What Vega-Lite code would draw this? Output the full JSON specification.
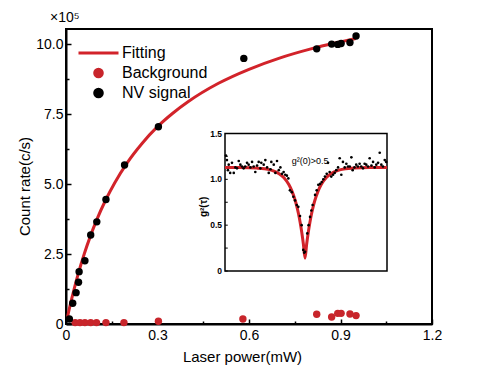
{
  "$schema": "https://vega.github.io/schema/vega-lite/v6.json",
  "width": 366,
  "height": 295,
  "autosize": "none",
  "padding": {"left": 66, "top": 29, "right": 48, "bottom": 47},
  "background": "white",
  "config": {
    "font": "Liberation Sans",
    "view": {"stroke": "black", "strokeWidth": 2},
    "axis": {"grid": false}
  },
  "title": {"text": "×10⁵", "anchor": "start", "frame": "group", "dx": -16, "offset": 4, "fontSize": 14, "fontWeight": "normal", "color": "black"},
  "datasets": {
    "fit": [
      {"P": 0.005, "C": 0.25, "series": "Fitting"},
      {"P": 0.01, "C": 0.50, "series": "Fitting"},
      {"P": 0.02, "C": 0.96, "series": "Fitting"},
      {"P": 0.03, "C": 1.39, "series": "Fitting"},
      {"P": 0.04, "C": 1.79, "series": "Fitting"},
      {"P": 0.06, "C": 2.51, "series": "Fitting"},
      {"P": 0.08, "C": 3.14, "series": "Fitting"},
      {"P": 0.10, "C": 3.70, "series": "Fitting"},
      {"P": 0.13, "C": 4.43, "series": "Fitting"},
      {"P": 0.16, "C": 5.05, "series": "Fitting"},
      {"P": 0.20, "C": 5.75, "series": "Fitting"},
      {"P": 0.25, "C": 6.46, "series": "Fitting"},
      {"P": 0.30, "C": 7.05, "series": "Fitting"},
      {"P": 0.35, "C": 7.53, "series": "Fitting"},
      {"P": 0.40, "C": 7.94, "series": "Fitting"},
      {"P": 0.50, "C": 8.60, "series": "Fitting"},
      {"P": 0.60, "C": 9.10, "series": "Fitting"},
      {"P": 0.70, "C": 9.50, "series": "Fitting"},
      {"P": 0.80, "C": 9.82, "series": "Fitting"},
      {"P": 0.90, "C": 10.08, "series": "Fitting"},
      {"P": 0.95, "C": 10.20, "series": "Fitting"}
    ],
    "points": [
      {"P": 0.03, "C": 0.05, "series": "Background"},
      {"P": 0.046, "C": 0.05, "series": "Background"},
      {"P": 0.062, "C": 0.05, "series": "Background"},
      {"P": 0.081, "C": 0.05, "series": "Background"},
      {"P": 0.10, "C": 0.05, "series": "Background"},
      {"P": 0.131, "C": 0.05, "series": "Background"},
      {"P": 0.19, "C": 0.05, "series": "Background"},
      {"P": 0.303, "C": 0.10, "series": "Background"},
      {"P": 0.58, "C": 0.18, "series": "Background"},
      {"P": 0.822, "C": 0.35, "series": "Background"},
      {"P": 0.871, "C": 0.25, "series": "Background"},
      {"P": 0.891, "C": 0.38, "series": "Background"},
      {"P": 0.902, "C": 0.38, "series": "Background"},
      {"P": 0.931, "C": 0.36, "series": "Background"},
      {"P": 0.951, "C": 0.30, "series": "Background"},
      {"P": 0.011, "C": 0.18, "series": "NV signal"},
      {"P": 0.022, "C": 0.74, "series": "NV signal"},
      {"P": 0.033, "C": 1.12, "series": "NV signal"},
      {"P": 0.041, "C": 1.49, "series": "NV signal"},
      {"P": 0.043, "C": 1.87, "series": "NV signal"},
      {"P": 0.062, "C": 2.26, "series": "NV signal"},
      {"P": 0.081, "C": 3.18, "series": "NV signal"},
      {"P": 0.101, "C": 3.65, "series": "NV signal"},
      {"P": 0.131, "C": 4.45, "series": "NV signal"},
      {"P": 0.192, "C": 5.68, "series": "NV signal"},
      {"P": 0.303, "C": 7.05, "series": "NV signal"},
      {"P": 0.583, "C": 9.49, "series": "NV signal"},
      {"P": 0.822, "C": 9.83, "series": "NV signal"},
      {"P": 0.871, "C": 10.0, "series": "NV signal"},
      {"P": 0.891, "C": 9.99, "series": "NV signal"},
      {"P": 0.902, "C": 10.02, "series": "NV signal"},
      {"P": 0.931, "C": 10.06, "series": "NV signal"},
      {"P": 0.951, "C": 10.29, "series": "NV signal"}
    ],
    "g2fit": [
      {"tau": -50, "g": 1.13}, {"tau": -40.6, "g": 1.129}, {"tau": -30.6, "g": 1.123},
      {"tau": -25.6, "g": 1.115}, {"tau": -20.6, "g": 1.095}, {"tau": -16.6, "g": 1.061},
      {"tau": -13.6, "g": 1.017}, {"tau": -10.6, "g": 0.943}, {"tau": -8.6, "g": 0.869},
      {"tau": -6.6, "g": 0.766}, {"tau": -5.6, "g": 0.70}, {"tau": -4.6, "g": 0.622},
      {"tau": -3.6, "g": 0.53}, {"tau": -2.6, "g": 0.421}, {"tau": -1.6, "g": 0.292},
      {"tau": -0.6, "g": 0.14}, {"tau": 0.4, "g": 0.292}, {"tau": 1.4, "g": 0.421},
      {"tau": 2.4, "g": 0.53}, {"tau": 3.4, "g": 0.622}, {"tau": 4.4, "g": 0.70},
      {"tau": 5.4, "g": 0.766}, {"tau": 7.4, "g": 0.869}, {"tau": 9.4, "g": 0.943},
      {"tau": 12.4, "g": 1.017}, {"tau": 15.4, "g": 1.061}, {"tau": 19.4, "g": 1.095},
      {"tau": 24.4, "g": 1.115}, {"tau": 29.4, "g": 1.123}, {"tau": 39.4, "g": 1.129},
      {"tau": 50, "g": 1.13}
    ],
    "g2": [
      {"tau": -49.4, "g": 1.26}, {"tau": -48.8, "g": 1.21}, {"tau": -48.2, "g": 1.10}, {"tau": -47.7, "g": 1.16},
      {"tau": -46.8, "g": 1.07}, {"tau": -45.7, "g": 1.18}, {"tau": -44.6, "g": 1.07}, {"tau": -43.6, "g": 1.13},
      {"tau": -42.6, "g": 1.12}, {"tau": -41.5, "g": 1.20}, {"tau": -40.5, "g": 1.16}, {"tau": -39.5, "g": 1.14},
      {"tau": -38.5, "g": 1.12}, {"tau": -37.5, "g": 1.14}, {"tau": -36.4, "g": 1.18}, {"tau": -35.4, "g": 1.16},
      {"tau": -34.3, "g": 1.13}, {"tau": -33.3, "g": 1.19}, {"tau": -32.3, "g": 1.14}, {"tau": -31.3, "g": 1.08},
      {"tau": -30.2, "g": 1.15}, {"tau": -29.2, "g": 1.19}, {"tau": -28.2, "g": 1.12}, {"tau": -27.6, "g": 1.18},
      {"tau": -26.1, "g": 1.16}, {"tau": -25.1, "g": 1.21}, {"tau": -24.0, "g": 1.13}, {"tau": -23.0, "g": 1.07},
      {"tau": -21.9, "g": 1.11}, {"tau": -21.4, "g": 1.19}, {"tau": -19.9, "g": 1.16}, {"tau": -18.9, "g": 1.07},
      {"tau": -17.9, "g": 1.20}, {"tau": -16.8, "g": 1.10}, {"tau": -15.8, "g": 1.13}, {"tau": -14.8, "g": 1.06},
      {"tau": -13.8, "g": 1.08}, {"tau": -12.8, "g": 1.05}, {"tau": -11.8, "g": 1.04}, {"tau": -10.9, "g": 1.01},
      {"tau": -9.9, "g": 0.88}, {"tau": -8.8, "g": 0.86}, {"tau": -7.8, "g": 0.81}, {"tau": -6.8, "g": 0.77},
      {"tau": -5.7, "g": 0.72}, {"tau": -4.75, "g": 0.70}, {"tau": -3.7, "g": 0.60}, {"tau": -2.7, "g": 0.50},
      {"tau": -1.7, "g": 0.23}, {"tau": -1.1, "g": 0.20}, {"tau": -0.6, "g": 0.21}, {"tau": 0.8, "g": 0.41},
      {"tau": 1.6, "g": 0.50}, {"tau": 2.5, "g": 0.59}, {"tau": 3.3, "g": 0.66}, {"tau": 4.1, "g": 0.72},
      {"tau": 5.6, "g": 0.83}, {"tau": 6.6, "g": 0.88}, {"tau": 7.6, "g": 0.94}, {"tau": 8.7, "g": 0.95},
      {"tau": 9.7, "g": 0.97}, {"tau": 10.7, "g": 1.00}, {"tau": 11.7, "g": 1.03}, {"tau": 12.8, "g": 1.06},
      {"tau": 13.6, "g": 1.18}, {"tau": 14.6, "g": 1.08}, {"tau": 15.6, "g": 1.03}, {"tau": 16.7, "g": 1.05},
      {"tau": 17.7, "g": 1.07}, {"tau": 18.7, "g": 1.10}, {"tau": 19.8, "g": 1.13}, {"tau": 20.8, "g": 1.23},
      {"tau": 21.8, "g": 1.05}, {"tau": 22.8, "g": 1.19}, {"tau": 23.9, "g": 1.13}, {"tau": 24.9, "g": 1.17},
      {"tau": 25.9, "g": 1.14}, {"tau": 27.0, "g": 1.14}, {"tau": 28.0, "g": 1.24}, {"tau": 28.8, "g": 1.10},
      {"tau": 29.9, "g": 1.13}, {"tau": 31.0, "g": 1.16}, {"tau": 32.0, "g": 1.14}, {"tau": 33.1, "g": 1.17},
      {"tau": 34.1, "g": 1.14}, {"tau": 35.2, "g": 1.12}, {"tau": 36.2, "g": 1.17}, {"tau": 37.2, "g": 1.16},
      {"tau": 38.3, "g": 1.14}, {"tau": 39.3, "g": 1.23}, {"tau": 40.4, "g": 1.15}, {"tau": 41.4, "g": 1.19},
      {"tau": 42.4, "g": 1.13}, {"tau": 43.4, "g": 1.16}, {"tau": 44.5, "g": 1.18}, {"tau": 45.5, "g": 1.29},
      {"tau": 46.5, "g": 1.16}, {"tau": 47.5, "g": 1.14}, {"tau": 48.6, "g": 1.21}, {"tau": 49.5, "g": 1.19}
    ],
    "g2ticks": [
      {"v": 0, "label": "0"}, {"v": 0.25, "label": ""}, {"v": 0.5, "label": "0.5"}, {"v": 0.75, "label": ""},
      {"v": 1.0, "label": "1.0"}, {"v": 1.25, "label": ""}, {"v": 1.5, "label": "1.5"}
    ]
  },
  "layer": [
    {
      "encoding": {
        "x": {
          "field": "P", "type": "quantitative",
          "scale": {"domain": [0, 1.2], "nice": false, "zero": false},
          "axis": {
            "title": "Laser power(mW)",
            "values": [0, 0.15, 0.3, 0.45, 0.6, 0.75, 0.9, 1.05, 1.2],
            "labelExpr": "abs(datum.value/0.3 - round(datum.value/0.3)) < 0.001 ? (datum.value == 0 ? '0' : format(datum.value, '.1f')) : ''",
            "labelFlush": false, "labelOverlap": false,
            "labelFontSize": 14, "labelColor": "black", "labelPadding": 9,
            "tickSize": {"condition": {"test": "abs(datum.value/0.3 - round(datum.value/0.3)) < 0.001", "value": -5}, "value": -3},
            "tickColor": "black", "tickWidth": 1.5,
            "domainColor": "black", "domainWidth": 2,
            "titleFontSize": 15, "titleFontWeight": "normal", "titleColor": "black",
            "titlePadding": 5, "titleX": 176
          }
        },
        "y": {
          "field": "C", "type": "quantitative",
          "scale": {"domain": [0, 10.54], "nice": false, "zero": false},
          "axis": {
            "title": "Count rate(c/s)",
            "values": [0, 1.25, 2.5, 3.75, 5, 6.25, 7.5, 8.75, 10],
            "labelExpr": "datum.value % 2.5 == 0 ? (datum.value == 0 ? '0' : format(datum.value, '.1f')) : ''",
            "labelFlush": false, "labelOverlap": false,
            "labelFontSize": 14, "labelColor": "black", "labelPadding": 8,
            "tickSize": {"condition": {"test": "datum.value % 2.5 == 0", "value": -5}, "value": -3},
            "tickColor": "black", "tickWidth": 1.5,
            "domainColor": "black", "domainWidth": 2,
            "titleFontSize": 15, "titleFontWeight": "normal", "titleColor": "black",
            "titlePadding": 3, "titleY": 157
          }
        },
        "color": {
          "field": "series", "type": "nominal",
          "scale": {"domain": ["Fitting", "Background", "NV signal"], "range": ["#d2232a", "#c8252b", "#000000"]},
          "legend": {
            "title": null, "orient": "none", "legendX": 11, "legendY": 14,
            "direction": "vertical", "symbolSize": 1600, "symbolType": "stroke",
            "labelFontSize": 16, "labelColor": "black", "labelOffset": 2,
            "clipHeight": 20, "rowPadding": 0, "padding": 0, "symbolStrokeWidth": 3,
            "encode": {
              "symbols": {
                "update": {
                  "shape": [{"test": "datum.value === 'Fitting'", "value": "stroke"}, {"value": "M -0.19 0 A 0.19 0.19 0 1 0 0.19 0 A 0.19 0.19 0 1 0 -0.19 0 Z"}],
                  "fill": [{"test": "datum.value === 'Fitting'", "value": "transparent"}, {"test": "datum.value === 'Background'", "value": "#c8252b"}, {"value": "#000000"}],
                  "stroke": [{"test": "datum.value === 'Fitting'", "value": "#d2232a"}, {"value": "transparent"}],
                  "opacity": {"value": 1}
                }
              }
            }
          }
        }
      },
      "layer": [
        {"data": {"name": "fit"}, "mark": {"type": "line", "strokeWidth": 3, "interpolate": "monotone"}},
        {"data": {"name": "points"}, "mark": {"type": "circle", "size": 55, "opacity": 1}}
      ]
    },
    {
      "layer": [
        {
          "data": {"values": [{}]},
          "mark": {"type": "rect", "fill": "white", "stroke": "black", "strokeWidth": 1.5},
          "encoding": {
            "x": {"datum": -50, "type": "quantitative", "scale": {"domain": [-50, 50], "range": [159, 321], "nice": false, "zero": false}, "axis": null},
            "x2": {"datum": 50},
            "y": {"datum": 0, "type": "quantitative", "scale": {"domain": [0, 1.5], "range": [242, 104.5], "nice": false, "zero": false}, "axis": null},
            "y2": {"datum": 1.5}
          }
        },
        {
          "data": {"name": "g2ticks"},
          "mark": {"type": "rule", "color": "black", "strokeWidth": 1},
          "encoding": {
            "x": {"datum": -50, "type": "quantitative", "axis": null},
            "x2": {"datum": -48.3},
            "y": {"field": "v", "type": "quantitative", "axis": null}
          }
        },
        {
          "data": {"name": "g2ticks"},
          "mark": {"type": "text", "align": "right", "baseline": "middle", "dx": -3, "fontSize": 8.5, "fontWeight": "bold", "color": "black"},
          "encoding": {
            "x": {"datum": -50, "type": "quantitative", "axis": null},
            "y": {"field": "v", "type": "quantitative", "axis": null},
            "text": {"field": "label"}
          }
        },
        {
          "data": {"values": [{}]},
          "mark": {"type": "text", "text": "g²(τ)", "angle": 270, "align": "center", "baseline": "middle", "fontSize": 10, "fontWeight": "bold", "color": "black"},
          "encoding": {
            "x": {"datum": -63, "type": "quantitative", "axis": null},
            "y": {"datum": 0.70, "type": "quantitative", "axis": null}
          }
        },
        {
          "data": {"name": "g2fit"},
          "mark": {"type": "line", "color": "#d2232a", "strokeWidth": 3, "interpolate": "monotone"},
          "encoding": {
            "x": {"field": "tau", "type": "quantitative", "axis": null},
            "y": {"field": "g", "type": "quantitative", "axis": null}
          }
        },
        {
          "data": {"name": "g2"},
          "mark": {"type": "circle", "color": "black", "size": 7, "opacity": 1},
          "encoding": {
            "x": {"field": "tau", "type": "quantitative", "axis": null},
            "y": {"field": "g", "type": "quantitative", "axis": null}
          }
        },
        {
          "data": {"values": [{}]},
          "mark": {"type": "text", "text": "g²(0)>0.5", "align": "left", "baseline": "middle", "fontSize": 9, "color": "black"},
          "encoding": {
            "x": {"datum": -8.8, "type": "quantitative", "axis": null},
            "y": {"datum": 1.2, "type": "quantitative", "axis": null}
          }
        }
      ]
    }
  ],
  "resolve": {
    "scale": {"x": "independent", "y": "independent"},
    "axis": {"x": "independent", "y": "independent"}
  }
}
